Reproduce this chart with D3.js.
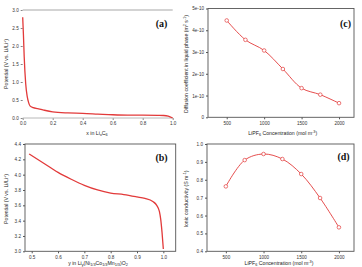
<!DOCTYPE html>
<html>
<head>
<meta charset="utf-8">
<script src="https://cdn.jsdelivr.net/npm/d3@7/dist/d3.min.js"></script>
<style>
  body { margin: 0; background: #fff; }
  svg { display: block; font-family: Arial, "Liberation Sans", sans-serif; }
  .tick text { font-size: 4.6px; fill: #333; }
  .title { font-size: 5.2px; fill: #222; }
  .tag { font-family: "Times New Roman", "Liberation Serif", serif; font-weight: bold; font-size: 10px; fill: #111; }
</style>
</head>
<body>
<div id="chart"></div>
<script>
// (a) anode potential
var aX = [0, 0.005, 0.01, 0.02, 0.03, 0.04, 0.05, 0.07, 0.1, 0.14, 0.2, 0.3, 0.4, 0.5, 0.6, 0.7, 0.8, 0.9, 0.94, 0.97, 1.0];
var aY = [2.8, 2.3, 1.7, 0.95, 0.6, 0.42, 0.33, 0.29, 0.26, 0.22, 0.17, 0.14, 0.13, 0.11, 0.09, 0.08, 0.08, 0.075, 0.07, 0.05, 0.0];
// (b) cathode potential
var bX = [0.49, 0.55, 0.6, 0.65, 0.7, 0.75, 0.8, 0.85, 0.9, 0.93, 0.96, 0.975, 0.985, 0.99, 0.995, 1.0];
var bY = [4.27, 4.14, 4.03, 3.94, 3.86, 3.80, 3.76, 3.74, 3.71, 3.69, 3.65, 3.60, 3.52, 3.42, 3.25, 3.03];
// (c) and (d) vs concentration
var conc = [500, 750, 1000, 1250, 1500, 1750, 2000];
var diffusion = [4.45e-10, 3.56e-10, 3.07e-10, 2.22e-10, 1.34e-10, 1.04e-10, 0.65e-10];
var conductivity = [0.763, 0.91, 0.944, 0.916, 0.832, 0.698, 0.534];

var concTicks = [500, 1000, 1500, 2000];
var red = "#e23a3a";

var svg = d3.select("#chart").append("svg")
    .attr("width", 362)
    .attr("height", 267);

// small helper to build one panel
function panel(opt) {
    var g = svg.append("g");
    var x = d3.scaleLinear().domain(opt.xd).range(opt.xr);
    var y = d3.scaleLinear().domain(opt.yd).range(opt.yr);

    var xAxis = d3.axisBottom(x).tickValues(opt.xt).tickSize(2).tickPadding(2).tickFormat(opt.xf);
    var yAxis = d3.axisLeft(y).tickValues(opt.yt).tickSize(2).tickPadding(2).tickFormat(opt.yf);

    var gx = g.append("g").attr("transform", "translate(0," + opt.yr[0] + ")").call(xAxis);
    var gy = g.append("g").attr("transform", "translate(" + opt.xr[0] + ",0)").call(yAxis);
    gx.selectAll("line").attr("stroke", opt.axisColor);
    gy.selectAll("line").attr("stroke", opt.axisColor);
    gx.select(".domain").remove();
    gy.select(".domain").remove();

    if (opt.box) {
        g.append("rect")
            .attr("x", opt.xr[0]).attr("y", opt.yr[1])
            .attr("width", opt.xr[1] - opt.xr[0])
            .attr("height", opt.yr[0] - opt.yr[1])
            .attr("fill", "none")
            .attr("stroke", opt.axisColor)
            .attr("stroke-width", 0.9);
    } else {
        g.append("line")
            .attr("x1", opt.xr[0]).attr("x2", opt.xr[1])
            .attr("y1", opt.yr[1]).attr("y2", opt.yr[1])
            .attr("stroke", "#c4c4c4").attr("stroke-width", 1.6);
        g.append("line")
            .attr("x1", opt.xr[0]).attr("x2", opt.xr[1])
            .attr("y1", opt.yr[0]).attr("y2", opt.yr[0])
            .attr("stroke", "#b8b8b8").attr("stroke-width", 1);
    }

    var pts = opt.xs.map(function(d, i) { return [d, opt.ys[i]]; });
    var line = d3.line()
        .x(function(d) { return x(d[0]); })
        .y(function(d) { return y(d[1]); })
        .curve(opt.markers ? d3.curveCatmullRom : d3.curveMonotoneX);

    g.append("path")
        .datum(pts)
        .attr("d", line)
        .attr("fill", "none")
        .attr("stroke", red)
        .attr("stroke-width", opt.markers ? 0.9 : 1.3);

    if (opt.markers) {
        g.selectAll("circle.m")
            .data(pts)
            .enter()
            .append("circle")
            .attr("class", "m")
            .attr("cx", function(d) { return x(d[0]); })
            .attr("cy", function(d) { return y(d[1]); })
            .attr("r", 1.8)
            .attr("fill", "#fff")
            .attr("stroke", red)
            .attr("stroke-width", 0.7);
    }

    // axis titles
    var xt = g.append("text").attr("class", "title")
        .attr("x", opt.xTitlePos[0]).attr("y", opt.xTitlePos[1])
        .attr("text-anchor", "middle");
    opt.xTitle.forEach(function(p) {
        var t = xt.append("tspan").text(p[0]);
        if (p[1] == "sub") t.attr("font-size", "3.8px").attr("dy", "1.2");
        if (p[1] == "sup") t.attr("font-size", "3.8px").attr("dy", "-2");
        if (p[1] == "back") t.attr("dy", p[2]);
    });
    var yt = g.append("text").attr("class", "title")
        .attr("transform", "translate(" + opt.yTitlePos[0] + "," + opt.yTitlePos[1] + ") rotate(-90)")
        .attr("text-anchor", "middle");
    opt.yTitle.forEach(function(p) {
        var t = yt.append("tspan").text(p[0]);
        if (p[1] == "sub") t.attr("font-size", "3.8px").attr("dy", "1.2");
        if (p[1] == "sup") t.attr("font-size", "3.8px").attr("dy", "-2");
        if (p[1] == "back") t.attr("dy", p[2]);
    });

    g.append("text").attr("class", "tag")
        .attr("x", opt.tag[1]).attr("y", opt.tag[2])
        .attr("text-anchor", "middle")
        .text(opt.tag[0]);
}

var f1 = d3.format(".1f");

panel({
    xd: [0, 1], xr: [22.7, 172.7], yd: [0, 3], yr: [118, 10],
    xt: [0, 0.2, 0.4, 0.6, 0.8, 1.0], yt: [0, 0.5, 1, 1.5, 2, 2.5, 3],
    xf: f1, yf: f1, axisColor: "#888", box: false,
    xs: aX, ys: aY, markers: false,
    xTitle: [["x in Li"], ["x", "sub"], ["C", "back", -1.2], ["6", "sub"]], xTitlePos: [97, 134.5],
    yTitle: [["Potential (V vs. Li/Li"], ["+", "sup"], [")", "back", 2]], yTitlePos: [7.5, 64],
    tag: ["(a)", 161.5, 26.5]
});

panel({
    xd: [250, 2200], xr: [208, 354], yd: [0, 5e-10], yr: [117.3, 8.5],
    xt: concTicks, yt: [0, 1e-10, 2e-10, 3e-10, 4e-10, 5e-10],
    xf: d3.format("d"), yf: function(d) { return d == 0 ? "0" : Math.round(d * 1e10) + "e-10"; },
    axisColor: "#555", box: true,
    xs: conc, ys: diffusion, markers: true,
    xTitle: [["LiPF"], ["6", "sub"], [" Concentration (mol m", "back", -1.2], ["-3", "sup"], [")", "back", 2]], xTitlePos: [282.7, 135],
    yTitle: [["Diffusion coefficient in liquid phase (m"], ["2", "sup"], [" s", "back", 2], ["-1", "sup"], [")", "back", 2]], yTitlePos: [187.5, 64],
    tag: ["(c)", 345.5, 26.5]
});

panel({
    xd: [0.4745, 1.047], xr: [25, 175.7], yd: [3.0, 4.4], yr: [251.3, 144],
    xt: [0.5, 0.6, 0.7, 0.8, 0.9, 1.0], yt: [3.0, 3.2, 3.4, 3.6, 3.8, 4.0, 4.2, 4.4],
    xf: f1, yf: f1, axisColor: "#555", box: true,
    xs: bX, ys: bY, markers: false,
    xTitle: [["y in Li"], ["y", "sub"], ["(Ni", "back", -1.2], ["1/3", "sub"], ["Co", "back", -1.2], ["1/3", "sub"], ["Mn", "back", -1.2], ["1/3", "sub"], [")O", "back", -1.2], ["2", "sub"]], xTitlePos: [98, 264.5],
    yTitle: [["Potential (V vs. Li/Li"], ["+", "sup"], [")", "back", 2]], yTitlePos: [7.5, 199],
    tag: ["(b)", 161.5, 160.5]
});

panel({
    xd: [250, 2200], xr: [207, 354], yd: [0.4, 1.0], yr: [251.3, 144],
    xt: concTicks, yt: [0.4, 0.5, 0.6, 0.7, 0.8, 0.9, 1.0],
    xf: d3.format("d"), yf: f1, axisColor: "#555", box: true,
    xs: conc, ys: conductivity, markers: true,
    xTitle: [["LiPF"], ["6", "sub"], [" Concentration (mol m", "back", -1.2], ["-3", "sup"], [")", "back", 2]], xTitlePos: [279, 264.5],
    yTitle: [["Ionic conductivity (S m"], ["-1", "sup"], [")", "back", 2]], yTitlePos: [187.5, 199],
    tag: ["(d)", 343.5, 160]
});
</script>
</body>
</html>
